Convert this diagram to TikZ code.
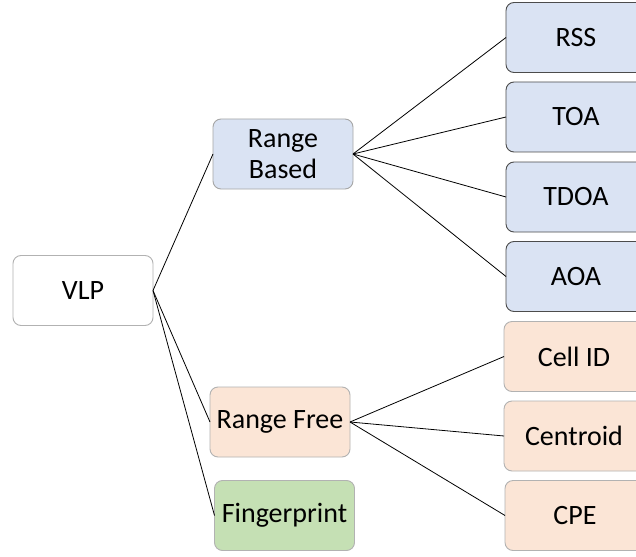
\documentclass[tikz,border=0pt]{standalone}
\usepackage{fontspec}
\setmainfont{Carlito}
\definecolor{rbfill}{HTML}{DAE3F3}
\definecolor{rffill}{HTML}{FBE5D6}
\definecolor{fpfill}{HTML}{C5E0B4}
\tikzset{
  box/.style={draw=#1,rounded corners=8pt,line width=0.9pt,minimum width=140pt,
    minimum height=70pt,inner sep=0pt,outer sep=0pt,align=center,
    font=\fontsize{28}{30.5}\selectfont},
  link/.style={line width=0.8pt}
}
\begin{document}
\begin{tikzpicture}[x=1pt,y=-1pt]
  \useasboundingbox[fill=white] (0,0) rectangle (636,556);
  % root and second level
  \node[box=black!30] (vlp) at (83,290.5) {VLP};
  \node[box=black!35,fill=rbfill] (rb) at (283,154) {Range\\Based};
  \node[box=black!30,fill=rffill] (rf) at (280,422) {Range Free};
  \node[box=black!30,fill=fpfill] (fp) at (284.5,515.5) {Fingerprint};
  % range based leaves
  \node[box=black!70,fill=rbfill] (rss) at (576,37.5) {RSS};
  \node[box=black!70,fill=rbfill] (toa) at (576,117) {TOA};
  \node[box=black!70,fill=rbfill] (tdoa) at (576,197) {TDOA};
  \node[box=black!70,fill=rbfill] (aoa) at (576,276.5) {AOA};
  % range free leaves
  \node[box=black!30,fill=rffill] (cid) at (574,356.5) {Cell ID};
  \node[box=black!30,fill=rffill] (cen) at (574,436) {Centroid};
  \node[box=black!30,fill=rffill] (cpe) at (575,515.5) {CPE};
  % connectors
  \foreach \t in {rb,rf,fp}
    \draw[link] (vlp.east) -- (\t.west);
  \foreach \t in {rss,toa,tdoa,aoa}
    \draw[link] (rb.east) -- (\t.west);
  \foreach \t in {cid,cen,cpe}
    \draw[link] (rf.east) -- (\t.west);
\end{tikzpicture}
\end{document}
